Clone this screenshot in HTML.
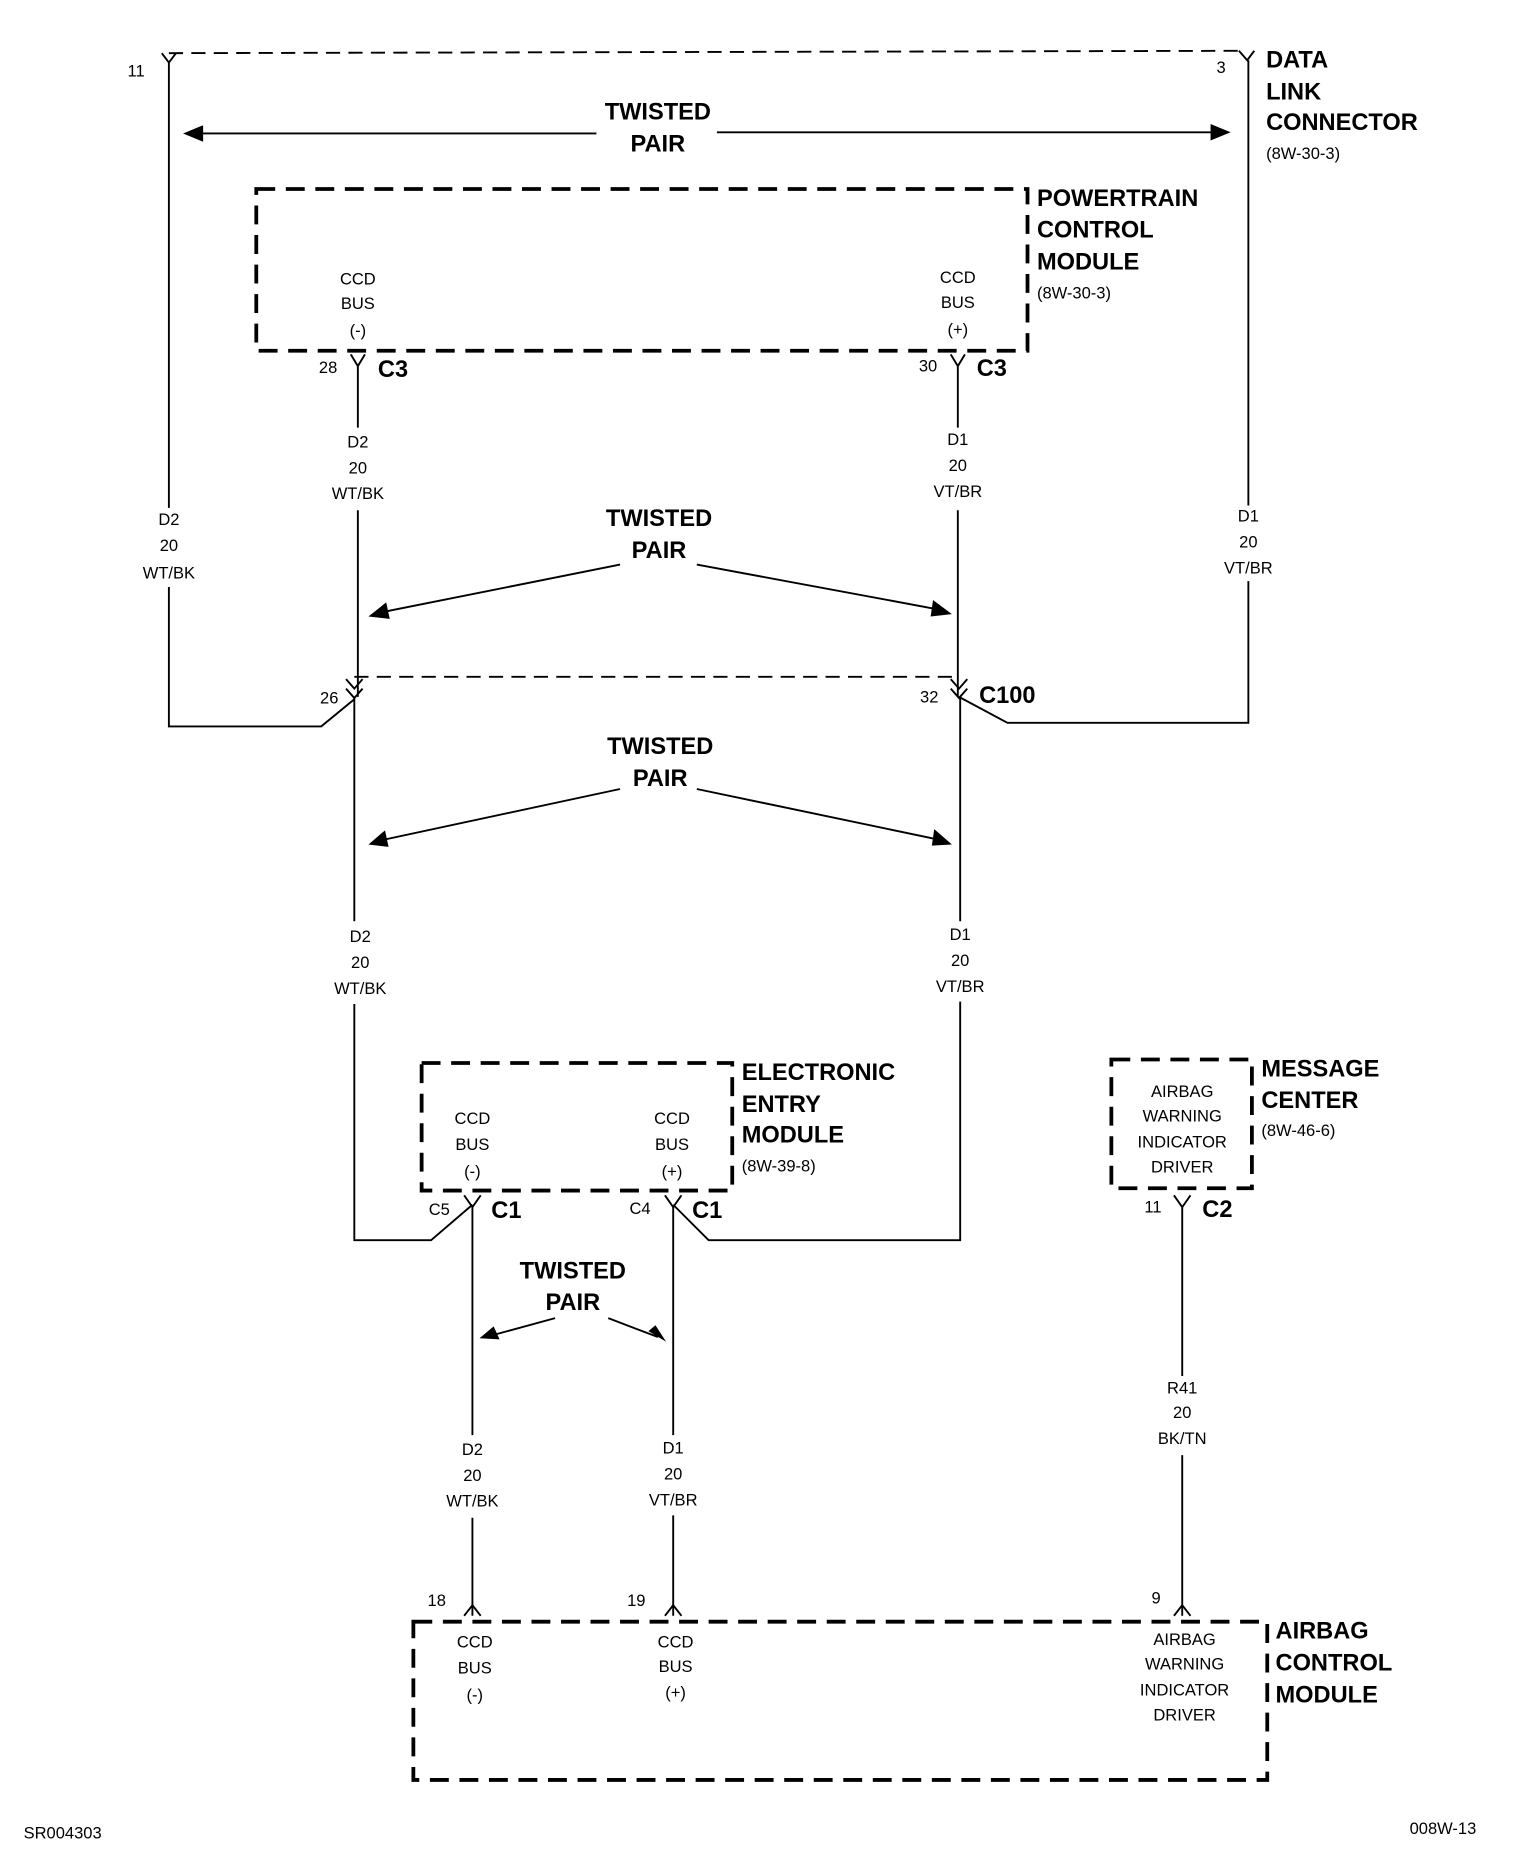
<!DOCTYPE html>
<html><head><meta charset="utf-8"><style>
html,body{margin:0;padding:0;background:#fff;}
svg{display:block;}
text{font-family:"Liberation Sans",sans-serif;fill:#000;}
.s{font-size:14px;text-anchor:middle;dominant-baseline:middle;}
.b{font-size:20px;font-weight:bold;dominant-baseline:middle;}
.bc{font-size:20px;font-weight:bold;text-anchor:middle;dominant-baseline:middle;}
.l{font-size:14px;dominant-baseline:middle;}
</style></head><body>
<svg width="1520" height="1852" viewBox="0 0 1287 1568" preserveAspectRatio="none" xmlns="http://www.w3.org/2000/svg">
<g fill="none" stroke="#000" stroke-width="1.6">
<line x1="143" y1="45" x2="1055" y2="43" stroke-dasharray="12,7"/>
<path d="M137 45 L143 53 L149 45 M1049 43 L1056 51 L1062 43"/>
<path d="M143 53 V430 M143 497 V615 H272 L300 592"/>
<path d="M1057 51 V428 M1057 492 V612 H853 L812 590"/>
<path d="M160 113 H505 M607 112 H1035"/>
<rect x="217" y="160" width="653" height="137" stroke-width="3.2" stroke-dasharray="16,9"/>
<path d="M297 300 L303 310 L309 300 M805 300 L811 310 L817 300"/>
<path d="M303 310 V362 M303 432 V590 M811 310 V362 M811 432 V590"/>
<line x1="300" y1="573" x2="812" y2="573" stroke-dasharray="12,7"/>
<path d="M293 575 L300 583 L307 575 M293 583 L300 591 L307 583 M805 575 L812 583 L819 575 M805 583 L812 591 L819 583"/>
<path d="M525 478 L320 519 M590 478 L800 517"/>
<path d="M300 591 V780 M300 850 V1050 H365 L400 1020 M813 591 V780 M813 848 V1050 H600 L570 1020"/>
<path d="M525 668 L320 712 M590 668 L800 712"/>
<rect x="357" y="900" width="263" height="108" stroke-width="3.2" stroke-dasharray="16,9"/>
<path d="M393 1012 L400 1022 L407 1012 M563 1012 L570 1022 L577 1012"/>
<path d="M400 1022 V1215 M400 1285 V1368 M570 1022 V1215 M570 1283 V1368"/>
<path d="M470 1116 L415 1131 M515 1116 L557 1132"/>
<path d="M393 1368 L400 1359 L407 1368 M563 1368 L570 1359 L577 1368"/>
<rect x="941" y="897" width="119" height="109" stroke-width="3.2" stroke-dasharray="16,9"/>
<path d="M994 1012 L1001 1022 L1008 1012 M1001 1022 V1165 M1001 1232 V1368 M994 1368 L1001 1359 L1008 1368"/>
<rect x="350" y="1373" width="723" height="134" stroke-width="3.2" stroke-dasharray="16,9"/>
</g>
<g fill="#000">
<path d="M155 113 L172 106 L172 120 Z"/>
<path d="M1042 112 L1025 105 L1025 119 Z"/>
<path d="M312 522 L327 510 L330 524 Z"/>
<path d="M806 520 L790 508 L788 522 Z"/>
<path d="M312 715 L326 703 L329 717 Z"/>
<path d="M806 715 L791 702 L789 716 Z"/>
<path d="M406 1133 L418 1123 L423 1134 Z"/>
<path d="M564 1136 L549 1127 L555 1122 Z"/>
</g>
<text class="l" x="108" y="61">11</text>
<text class="l" x="1030" y="58">3</text>
<text class="b" x="1072" y="52">DATA</text>
<text class="b" x="1072" y="79">LINK</text>
<text class="b" x="1072" y="105">CONNECTOR</text>
<text class="l" x="1072" y="131">(8W-30-3)</text>
<text class="bc" x="557" y="96">TWISTED</text>
<text class="bc" x="557" y="123">PAIR</text>
<text class="b" x="878" y="169">POWERTRAIN</text>
<text class="b" x="878" y="196">CONTROL</text>
<text class="b" x="878" y="223">MODULE</text>
<text class="l" x="878" y="249">(8W-30-3)</text>
<text class="s" x="303" y="237">CCD</text><text class="s" x="303" y="258">BUS</text><text class="s" x="303" y="281">(-)</text>
<text class="s" x="811" y="236">CCD</text><text class="s" x="811" y="257">BUS</text><text class="s" x="811" y="280">(+)</text>
<text class="l" x="270" y="312">28</text><text class="b" x="320" y="314">C3</text>
<text class="l" x="778" y="311">30</text><text class="b" x="827" y="313">C3</text>
<text class="s" x="303" y="375">D2</text><text class="s" x="303" y="397">20</text><text class="s" x="303" y="419">WT/BK</text>
<text class="s" x="811" y="373">D1</text><text class="s" x="811" y="395">20</text><text class="s" x="811" y="417">VT/BR</text>
<text class="s" x="143" y="441">D2</text><text class="s" x="143" y="463">20</text><text class="s" x="143" y="486">WT/BK</text>
<text class="s" x="1057" y="438">D1</text><text class="s" x="1057" y="460">20</text><text class="s" x="1057" y="482">VT/BR</text>
<text class="bc" x="558" y="440">TWISTED</text><text class="bc" x="558" y="467">PAIR</text>
<text class="l" x="271" y="592">26</text><text class="l" x="779" y="591">32</text>
<text class="b" x="829" y="590">C100</text>
<text class="bc" x="559" y="633">TWISTED</text><text class="bc" x="559" y="660">PAIR</text>
<text class="s" x="305" y="794">D2</text><text class="s" x="305" y="816">20</text><text class="s" x="305" y="838">WT/BK</text>
<text class="s" x="813" y="792">D1</text><text class="s" x="813" y="814">20</text><text class="s" x="813" y="836">VT/BR</text>
<text class="b" x="628" y="909">ELECTRONIC</text>
<text class="b" x="628" y="936">ENTRY</text>
<text class="b" x="628" y="962">MODULE</text>
<text class="l" x="628" y="988">(8W-39-8)</text>
<text class="s" x="400" y="948">CCD</text><text class="s" x="400" y="970">BUS</text><text class="s" x="400" y="993">(-)</text>
<text class="s" x="569" y="948">CCD</text><text class="s" x="569" y="970">BUS</text><text class="s" x="569" y="993">(+)</text>
<text class="l" x="363" y="1025">C5</text><text class="b" x="416" y="1026">C1</text>
<text class="l" x="533" y="1024">C4</text><text class="b" x="586" y="1026">C1</text>
<text class="b" x="1068" y="906">MESSAGE</text>
<text class="b" x="1068" y="933">CENTER</text>
<text class="l" x="1068" y="958">(8W-46-6)</text>
<text class="s" x="1001" y="925">AIRBAG</text><text class="s" x="1001" y="946">WARNING</text><text class="s" x="1001" y="968">INDICATOR</text><text class="s" x="1001" y="989">DRIVER</text>
<text class="l" x="969" y="1023">11</text><text class="b" x="1018" y="1025">C2</text>
<text class="bc" x="485" y="1077">TWISTED</text><text class="bc" x="485" y="1104">PAIR</text>
<text class="s" x="400" y="1228">D2</text><text class="s" x="400" y="1250">20</text><text class="s" x="400" y="1272">WT/BK</text>
<text class="s" x="570" y="1227">D1</text><text class="s" x="570" y="1249">20</text><text class="s" x="570" y="1271">VT/BR</text>
<text class="s" x="1001" y="1176">R41</text><text class="s" x="1001" y="1197">20</text><text class="s" x="1001" y="1219">BK/TN</text>
<text class="l" x="362" y="1356">18</text><text class="l" x="531" y="1356">19</text><text class="l" x="975" y="1354">9</text>
<text class="s" x="402" y="1391">CCD</text><text class="s" x="402" y="1413">BUS</text><text class="s" x="402" y="1436">(-)</text>
<text class="s" x="572" y="1391">CCD</text><text class="s" x="572" y="1412">BUS</text><text class="s" x="572" y="1434">(+)</text>
<text class="s" x="1003" y="1389">AIRBAG</text><text class="s" x="1003" y="1410">WARNING</text><text class="s" x="1003" y="1432">INDICATOR</text><text class="s" x="1003" y="1453">DRIVER</text>
<text class="b" x="1080" y="1382">AIRBAG</text>
<text class="b" x="1080" y="1409">CONTROL</text>
<text class="b" x="1080" y="1436">MODULE</text>
<text class="l" x="20" y="1553">SR004303</text>
<text class="l" x="1250" y="1549" text-anchor="end">008W-13</text>
</svg>
</body></html>
